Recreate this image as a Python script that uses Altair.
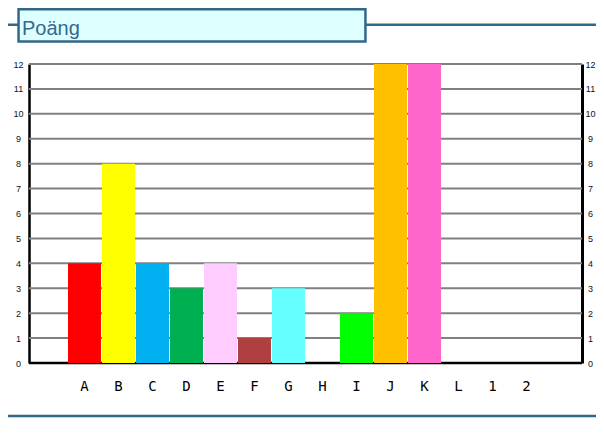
import altair as alt
import pandas as pd

categories = ["A", "B", "C", "D", "E", "F", "G", "H", "I", "J", "K", "L", "1", "2"]
values = [4, 8, 4, 3, 4, 1, 3, 0, 2, 12, 12, 0, 0, 0]
bar_colors = ["#FF0000", "#FFFF00", "#00B0F0", "#00B050", "#FFCCFF", "#B04040", "#66FFFF",
              "#808080", "#00FF00", "#FFC000", "#FF66CC", "#808080", "#808080", "#808080"]
y_ticks = list(range(0, 13))
grid_values = list(range(1, 13))
title_text = "Poäng"

df = pd.DataFrame({"cat": categories, "val": values, "color": bar_colors})
grid_df = pd.DataFrame({"v": grid_values})
deco = pd.DataFrame({"t": [title_text]})

W, H = 553, 299
LINE = "#31688A"

x_enc = alt.X(
    "cat:N", sort=categories,
    scale=alt.Scale(paddingInner=0.03, paddingOuter=0, range=[39, 514]),
    axis=alt.Axis(title=None, labelAngle=0, ticks=False, tickSize=0, domain=False,
                  labelFont="DejaVu Sans Mono", labelFontSize=14,
                  labelColor="#000000", labelPadding=16, grid=False),
)
y_scale = alt.Scale(domain=[0, 12], nice=False)

grid = alt.Chart(grid_df).mark_rule(color="#808080", strokeWidth=2).encode(
    y=alt.Y("v:Q", scale=y_scale, axis=None),
    x=alt.value(0), x2=alt.value(W))

base_line = alt.Chart(deco).mark_rule(color="black", strokeWidth=2.5).encode(
    x=alt.value(0), x2=alt.value(W), y=alt.value(H))

bars = alt.Chart(df).mark_bar().encode(
    x=x_enc,
    y=alt.Y("val:Q", scale=y_scale,
            axis=alt.Axis(title=None, orient="left", values=y_ticks, grid=False,
                          ticks=False, tickSize=0, domainColor="black", domainWidth=2.5,
                          labelFont="Liberation Sans", labelFontSize=9, labelColor="#111111",
                          labelAlign="center", labelPadding=11)),
    color=alt.Color("color:N", scale=None),
)

right = alt.Chart(df).mark_bar(opacity=0).encode(
    x=x_enc,
    y=alt.Y("val:Q", scale=y_scale,
            axis=alt.Axis(title=None, orient="right", values=y_ticks, grid=False,
                          ticks=False, tickSize=0, domainColor="black", domainWidth=3,
                          labelFont="Liberation Sans", labelFontSize=9, labelColor="#111111",
                          labelAlign="center", labelPadding=8)),
)

top_line = alt.Chart(deco).mark_rule(color=LINE, strokeWidth=2.5).encode(
    x=alt.value(-21), x2=alt.value(567), y=alt.value(-39.3))
box = alt.Chart(deco).mark_rect(fill="#DDFFFF", stroke=LINE, strokeWidth=2.5).encode(
    x=alt.value(-10.45), x2=alt.value(336.45), y=alt.value(-54.75), y2=alt.value(-22.55))
title = alt.Chart(deco).mark_text(align="left", baseline="alphabetic", font="Liberation Sans",
                                  fontSize=20, color="#36698C").encode(
    x=alt.value(-7), y=alt.value(-29), text="t:N")
bottom_line = alt.Chart(deco).mark_rule(color=LINE, strokeWidth=2.5).encode(
    x=alt.value(-21), x2=alt.value(567), y=alt.value(352))

chart = alt.layer(grid, base_line, bars, right, top_line, box, title, bottom_line).resolve_axis(
    y="independent"
).properties(
    width=W, height=H,
    padding={"left": 21, "top": 56, "right": 14, "bottom": 55},
    autosize=alt.AutoSizeParams(type="none"),
    background="white",
).configure_view(stroke=None)

chart.save("out.html", embed_options={"renderer": "svg", "actions": False})
